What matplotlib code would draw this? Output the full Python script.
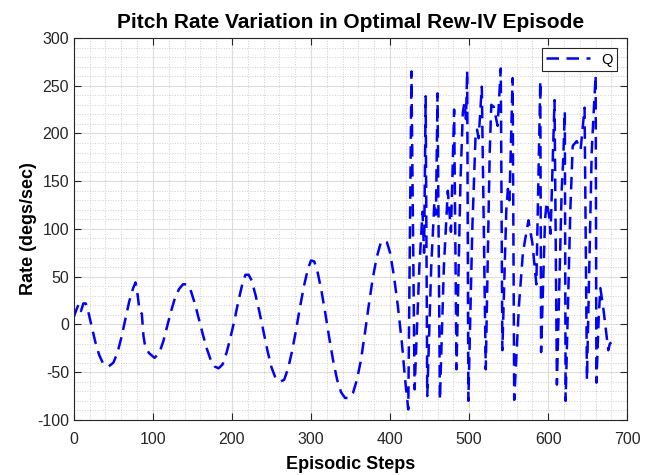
import matplotlib
matplotlib.use("Agg")
import matplotlib.pyplot as plt
from matplotlib.ticker import MultipleLocator

plt.rcParams['font.family'] = ['Liberation Sans', 'DejaVu Sans']
plt.rcParams['axes.unicode_minus'] = False

# smooth oscillation before the chaotic part
steps_a = [0, 3, 6, 9, 12, 15, 18, 22, 27, 32, 37, 44, 50, 55, 60, 65, 70, 75, 78,
           80, 83, 86, 88, 90, 95, 102, 108, 113, 118, 123, 128, 133, 138, 143, 148,
           153, 158, 163, 168, 173, 178, 183, 188, 193, 198, 203, 208, 213, 217, 221,
           225, 230, 235, 240, 245, 250, 255, 261, 266, 271, 276, 281, 286, 291, 296,
           300, 304, 308, 313, 318, 323, 328, 333, 338, 343, 348, 353, 358, 363, 368,
           373, 378, 383, 388, 392, 396, 400, 405, 410, 415, 419]
rate_a = [8, 15, 21, 14, 22, 22, 14, 0, -18, -32, -41, -44, -40, -30, -14, 5, 24, 38, 44,
          35, 15, 11, -12, -22, -30, -35, -30, -18, -2, 14, 28, 37, 42, 42, 35,
          22, 6, -10, -25, -37, -44, -46, -42, -30, -14, 4, 24, 42, 52, 52,
          46, 30, 12, -8, -28, -45, -56, -60, -58, -46, -28, -6, 18, 40, 58,
          67, 66, 56, 36, 12, -14, -38, -58, -71, -77, -77, -72, -58, -38, -10,
          20, 48, 70, 85, 88, 86, 75, 50, 18, -20, -58]

# spiky part of the episode
steps_b = [423, 427, 431, 437, 441, 443, 445, 447, 452, 456, 458, 460, 463, 468, 473,
           477, 481, 484, 489, 492, 494, 496, 497.5, 499, 504, 508, 510, 512, 516, 521,
           526, 528, 531, 536, 540, 542, 547, 549, 551, 555, 557, 563, 568, 575, 580,
           585, 590, 591, 596, 598, 601, 603, 608, 611, 617, 619, 621, 622, 628, 631,
           636, 641, 646, 649, 655, 657, 660, 661, 664, 666, 670, 674, 676, 678, 680]
rate_b = [-89, 265, -68, 60, 118, 75, 239, -75, 60, 128, 115, 242, -79, 60, 140,
          97, 225, -47, 150, 222, 232, 215, 266, -80, 100, 195, 204, 195, 249, -47,
          180, 230, 228, 208, 268, -27, 120, 142, 130, 258, -79, 20, 75, 109, 85,
          42, 255, -29, 110, 128, 115, 95, 235, -63, 140, 173, 223, -80, 120, 187,
          192, 183, 227, -58, 180, 214, 261, -61, 10, 38, 15, -13, -27, -20, -19]

steps = steps_a + steps_b
rate = rate_a + rate_b

axis_col = '#262626'

fig = plt.figure(figsize=(6.48, 4.75), dpi=100)
ax = fig.add_axes([0.114, 0.116, 0.854, 0.804])

ax.plot(steps, rate, color='#0000ff', linestyle='--', linewidth=1.8, dashes=(5, 3), label='Q')

ax.set_xlim(0, 700)
ax.set_ylim(-100, 300)
ax.xaxis.set_major_locator(MultipleLocator(100))
ax.yaxis.set_major_locator(MultipleLocator(50))
ax.xaxis.set_minor_locator(MultipleLocator(20))
ax.yaxis.set_minor_locator(MultipleLocator(10))

ax.grid(True, which='major', color='#dcdcdc', linewidth=0.8)
ax.grid(True, which='minor', color='#d0d0d0', linestyle=':', linewidth=0.7)
ax.set_axisbelow(True)

ax.tick_params(which='both', direction='in', top=True, right=True, colors=axis_col,
               labelsize=11.5)
ax.tick_params(which='major', length=5)
ax.tick_params(which='minor', length=0)
ax.tick_params(axis='x', pad=9)
for s in ax.spines.values():
    s.set_color(axis_col)
    s.set_linewidth(0.8)

ax.set_title('Pitch Rate Variation in Optimal Rew-IV Episode', fontsize=15,
             fontweight='bold', pad=7)
ax.set_xlabel('Episodic Steps', fontsize=13, fontweight='bold', labelpad=6)
ax.set_ylabel('Rate (degs/sec)', fontsize=13, fontweight='bold', labelpad=0)

leg = ax.legend(loc='upper right', fontsize=10.5, fancybox=False, framealpha=1,
                edgecolor=axis_col, handlelength=3.0, borderpad=0.3,
                borderaxespad=0.7)
leg.get_frame().set_linewidth(0.8)

fig.savefig('out.png', dpi=100)
